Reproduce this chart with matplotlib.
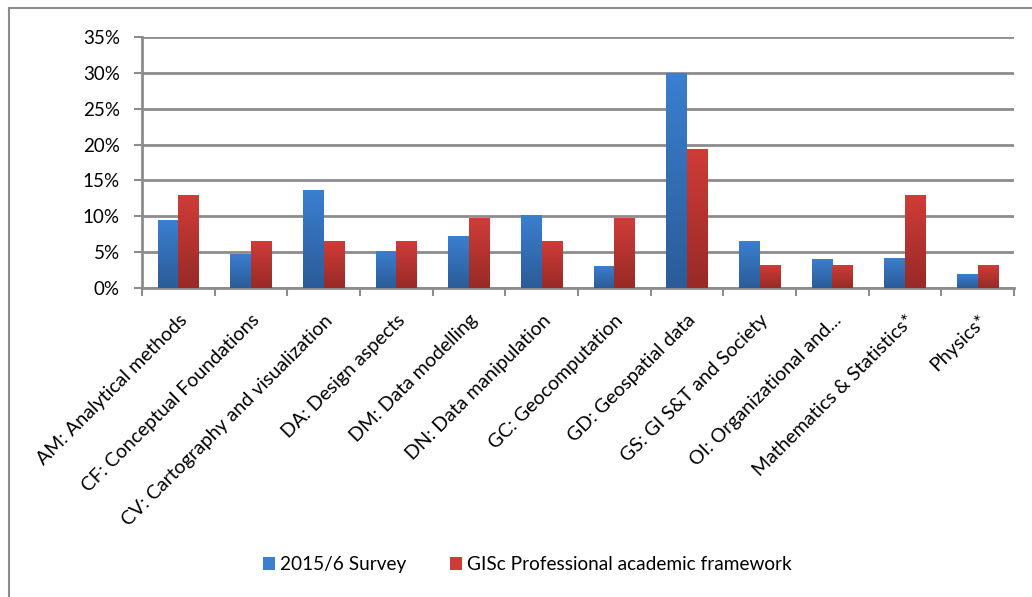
import matplotlib
matplotlib.use("Agg")
import matplotlib.pyplot as plt
import numpy as np
from matplotlib.patches import Rectangle
from matplotlib.ticker import PercentFormatter

plt.rcParams['font.family'] = ['Lato', 'DejaVu Sans']

categories = ["AM: Analytical methods", "CF: Conceptual Foundations",
              "CV: Cartography and visualization", "DA: Design aspects",
              "DM: Data modelling", "DN: Data manipulation",
              "GC: Geocomputation", "GD: Geospatial data",
              "GS: GI S&T and Society", "OI: Organizational and...",
              "Mathematics & Statistics*", "Physics*"]
survey = [0.095, 0.048, 0.137, 0.052, 0.072, 0.102, 0.031, 0.300, 0.065, 0.041, 0.042, 0.019]
framework = [0.129, 0.065, 0.065, 0.065, 0.097, 0.065, 0.097, 0.194, 0.032, 0.032, 0.129, 0.032]
series_names = ["2015/6 Survey", "GISc Professional academic framework"]

# gradient colours (top, bottom) like the old excel style
blue = ("#3b7fd0", "#2b5c98")
red = ("#cf3c38", "#982a27")

fig = plt.figure(figsize=(10.32, 5.97), dpi=100)
ax = fig.add_axes([0.1376, 0.5176, 0.845, 0.4204])

x = np.arange(len(categories))
w = 0.286


def gradient_bars(bars, cols):
    c = matplotlib.colors.LinearSegmentedColormap.from_list("g", [cols[1], cols[0]])
    grad = np.linspace(0, 1, 100).reshape(-1, 1)
    for b in bars:
        x0, y0 = b.get_x(), b.get_y()
        im = ax.imshow(grad, cmap=c, aspect="auto", origin="lower",
                       extent=[x0, x0 + b.get_width(), y0, y0 + b.get_height()],
                       zorder=3)
        im.set_clip_path(b)


b1 = ax.bar(x - w / 2, survey, w, color=blue[0], zorder=2, label=series_names[0])
b2 = ax.bar(x + w / 2, framework, w, color=red[0], zorder=2, label=series_names[1])
gradient_bars(b1, blue)
gradient_bars(b2, red)

ax.set_xlim(-0.5, len(categories) - 0.5)
ax.set_ylim(0, 0.35)
ax.set_yticks(np.arange(0, 0.351, 0.05))
ax.yaxis.set_major_formatter(PercentFormatter(1.0, decimals=0))
ax.grid(axis="y", color="#8c8c8c", linewidth=2, zorder=0)
ax.set_axisbelow(True)

ax.set_xticks(np.arange(-0.5, len(categories), 1.0))
ax.set_xticklabels([])
ax.set_xticks(x, minor=True)
ax.set_xticklabels(categories, minor=True, rotation=45, ha="right",
                   rotation_mode="anchor", fontsize=14)
ax.tick_params(axis="x", which="minor", length=0, pad=17)
ax.tick_params(axis="x", which="major", length=6, width=1.5, color="#8c8c8c")
ax.tick_params(axis="y", length=6, width=1.5, color="#8c8c8c", labelsize=13.5, pad=10)

for s in ["top", "right"]:
    ax.spines[s].set_visible(False)
for s in ["left", "bottom"]:
    ax.spines[s].set_color("#8c8c8c")
    ax.spines[s].set_linewidth(2)

h1 = Rectangle((0, 0), 1, 1, facecolor=blue[0])
h2 = Rectangle((0, 0), 1, 1, facecolor=red[0])
fig.legend([h1, h2], series_names, loc="center", bbox_to_anchor=(0.511, 0.054),
           ncol=2, frameon=False, fontsize=13.7, handlelength=0.65, handleheight=0.65,
           handletextpad=0.25, columnspacing=2.3)

# outer chart border (only left/top visible in the crop)
fig.add_artist(plt.Line2D([0.0087, 0.0087], [0, 0.987], color="#8c8c8c", lw=1.5))
fig.add_artist(plt.Line2D([0.0087, 1.0], [0.987, 0.987], color="#8c8c8c", lw=1.5))

fig.savefig("out.png", dpi=100)
